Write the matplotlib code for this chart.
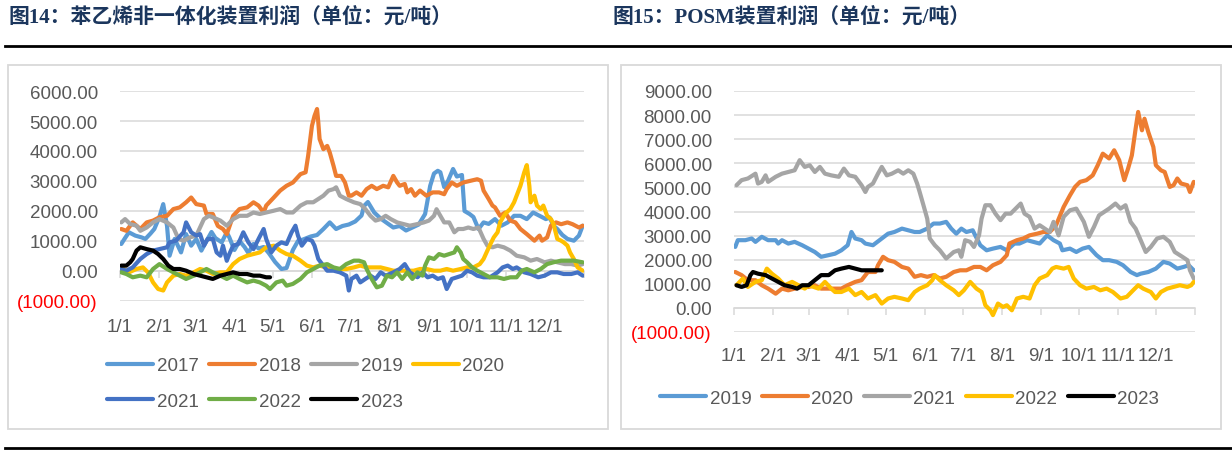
import matplotlib
matplotlib.use('Agg')
import matplotlib.pyplot as plt
import matplotlib.transforms as mtransforms
from matplotlib.patches import Rectangle
from matplotlib.lines import Line2D

# ---------------- data ----------------
month_days = [0, 31, 59, 90, 120, 151, 181, 212, 243, 273, 304, 334]
month_labels = ['1/1', '2/1', '3/1', '4/1', '5/1', '6/1', '7/1', '8/1', '9/1', '10/1', '11/1', '12/1']

left_title = '图14：苯乙烯非一体化装置利润（单位：元/吨）'
right_title = '图15：POSM装置利润（单位：元/吨）'

left_yticks = [-1000, 0, 1000, 2000, 3000, 4000, 5000, 6000]
right_yticks = [-1000, 0, 1000, 2000, 3000, 4000, 5000, 6000, 7000, 8000, 9000]

# left chart: styrene non-integrated plant profit
sm2017_days = [1,4,7,12,17,20,24,27,31,34,37,39,43,46,48,52,56,60,64,68,72,75,80,84,86,90,94,98,101,105,109,113,117,122,127,131,136,140,144,150,155,160,165,170,175,180,185,190,192,195,200,205,210,215,220,225,230,235,240,244,247,250,252,255,258,262,265,269,271,275,278,282,286,290,295,300,305,310,315,320,325,330,335,338,341,344,348,352,357,361,364]
sm2017_vals = [900,1100,1290,1180,1120,1070,1250,1400,1800,2230,1500,510,1070,800,620,1230,845,1070,680,1000,1300,1100,955,1290,1120,700,1000,800,600,900,750,800,600,300,67,100,700,1000,1050,1150,1200,1400,1620,1400,1500,1550,1650,1850,2170,2300,1950,1750,1600,1450,1500,1350,1450,1550,1900,2840,3250,3340,3290,2800,3000,3400,3150,3200,2000,1900,1800,1400,1620,1570,1730,1510,1620,1840,1840,1730,1950,1840,1730,1780,1510,1400,1200,1070,1010,1180,1510]

sm2018_days = [1,5,10,16,21,26,31,37,42,47,52,56,60,66,68,73,77,81,84,89,94,100,105,109,113,115,121,126,131,136,142,146,148,151,153,155,156,157,160,163,165,168,170,174,177,180,182,186,190,194,198,202,207,211,215,218,220,224,226,229,232,236,241,246,251,255,257,261,265,270,276,281,284,286,290,293,295,299,303,307,311,315,320,326,330,332,336,339,343,347,352,356,361,364]
sm2018_vals = [1400,1340,1620,1400,1620,1680,1790,1840,2065,2120,2290,2450,2230,2180,1900,1900,1500,1400,1230,1840,2065,2120,2290,2180,1950,2180,2450,2680,2840,2950,3230,3290,3840,4840,5170,5400,4950,4400,4060,4170,3950,3500,3170,3170,2950,2510,2510,2620,2510,2730,2840,2730,2840,2790,3170,2950,2840,2900,2620,2730,2510,2680,2510,2620,2620,2560,2730,2950,2840,2950,3010,3060,3010,2680,2400,2180,2120,1840,1950,1680,1620,1400,1230,1010,1180,1010,1120,1510,1620,1560,1620,1560,1450,1510]

sm2019_days = [1,4,8,13,16,21,26,31,37,42,46,50,55,60,66,70,73,79,84,89,94,100,105,110,115,121,126,131,136,142,147,152,156,160,164,168,170,173,178,184,189,193,197,201,205,209,213,218,223,228,234,239,243,247,249,252,255,259,263,266,270,274,278,282,286,289,293,297,302,307,312,318,323,328,334,339,344,350,355,360,364]
sm2019_vals = [1620,1730,1565,1510,1340,1450,1620,1730,1620,1450,1070,1010,1120,1180,1730,1840,1790,1680,1510,1730,1840,1840,1950,1900,1950,2010,2065,1950,1950,2180,2290,2290,2400,2510,2680,2730,2790,2510,2400,2290,2230,2065,1840,1680,1730,1840,1730,1620,1565,1510,1565,1620,1680,1840,2060,1840,1620,1620,1290,1400,1400,1450,1400,1450,1070,845,790,845,790,680,510,455,345,400,290,345,290,230,230,180,230]

sm2020_days = [1,7,13,18,22,26,30,34,37,42,47,52,58,63,68,73,79,84,89,94,100,105,110,115,121,126,131,136,142,147,152,157,162,168,173,178,184,189,194,199,205,210,215,220,226,231,236,241,247,252,257,262,268,273,278,283,286,289,292,294,297,299,302,304,307,310,312,315,318,320,322,323,326,328,331,333,336,339,341,344,347,349,352,354,357,360,364]
sm2020_vals = [120,-45,67,120,-45,-380,-600,-650,-380,-155,-100,-155,-45,67,10,-100,-45,-45,230,400,510,565,620,790,845,680,565,510,345,180,120,180,120,67,67,67,120,180,120,120,120,67,10,10,10,10,67,67,10,10,67,10,67,120,120,230,400,680,950,1120,1290,1620,1840,1950,2065,2290,2510,2840,3290,3530,2840,2290,2510,2180,2065,2180,1840,1730,1570,1070,1010,955,845,620,400,120,10]

sm2021_days = [1,5,10,16,21,26,31,37,39,44,50,52,56,60,63,66,69,73,76,79,81,84,86,89,93,97,101,105,109,113,115,119,123,127,131,135,138,140,143,147,151,153,156,159,163,168,173,178,180,182,186,189,193,197,201,205,209,215,220,224,228,234,238,242,246,250,254,257,261,265,269,273,277,281,286,291,297,301,305,309,312,318,323,329,334,339,344,349,355,360,364]
sm2021_vals = [67,10,120,400,565,680,730,790,955,1010,1290,1620,1290,1180,1230,845,1070,1070,620,510,845,340,565,845,900,1290,955,730,1070,1400,1070,620,845,955,900,1290,1510,1180,845,1070,1010,845,400,230,10,10,-45,-155,-650,-265,-155,-380,-265,-155,-265,-45,-155,-45,67,230,-45,-210,-45,-210,-155,-265,-210,-600,-265,-210,-155,10,-45,-155,-210,-210,-45,120,180,67,120,-45,-100,-210,-155,-45,-45,-100,-100,-45,-155]

sm2022_days = [1,5,10,16,21,26,31,37,42,47,52,58,63,68,73,79,84,89,94,100,105,110,115,118,123,128,131,136,142,147,152,157,163,168,173,178,184,188,192,194,198,202,206,210,214,218,222,226,230,234,238,240,243,247,251,255,259,263,265,268,270,273,277,281,286,291,297,302,307,312,316,320,326,331,336,341,347,352,357,364]
sm2022_vals = [-45,-100,-210,-155,-210,67,230,67,-45,-155,-265,-155,-45,67,-45,-155,-265,-155,-265,-380,-320,-380,-490,-600,-380,-320,-490,-430,-265,-45,67,180,230,120,67,230,345,345,290,67,-265,-545,-490,-155,-210,-45,-265,-45,-265,-45,-155,180,455,400,565,510,565,620,790,620,400,290,120,10,-100,-210,-210,-265,-210,-210,10,67,-45,67,230,290,345,345,345,290]

sm2023_days = [1,5,8,10,13,16,21,26,30,34,38,42,47,52,58,63,68,73,79,84,89,94,100,105,110,115,118]
sm2023_vals = [180,180,290,400,680,790,730,680,565,400,180,67,67,10,-100,-155,-210,-265,-155,-100,-45,-100,-100,-155,-155,-210,-210]

# right chart: POSM plant profit
po2019_days = [1,3,9,14,17,22,27,33,35,38,43,48,54,59,64,69,75,80,85,90,93,96,101,104,110,117,122,127,133,138,143,147,153,158,163,168,172,176,180,184,189,191,195,200,205,211,216,222,226,232,237,242,248,253,258,260,266,271,276,281,287,292,297,303,308,314,319,322,328,334,340,345,351,356,360,364]
po2019_vals = [2530,2810,2810,2880,2740,2950,2810,2810,2670,2810,2670,2740,2600,2460,2320,2120,2190,2250,2390,2600,3150,2880,2810,2670,2600,2880,3080,3150,3290,3220,3150,3150,3290,3500,3500,3570,3290,3080,3290,3150,3220,3010,2600,2390,2460,2530,2390,2670,2670,2810,2740,2670,3010,2810,2670,2390,2460,2320,2460,2530,2190,1980,1980,1910,1770,1490,1360,1420,1490,1630,1910,1840,1630,1700,1770,1560]

po2020_days = [1,6,11,17,22,27,33,38,43,48,54,59,64,69,75,80,85,90,96,101,106,112,114,118,122,127,133,138,143,148,153,158,163,168,174,179,184,190,195,200,205,211,216,218,224,229,234,240,245,250,255,261,266,270,274,279,284,288,292,297,301,305,309,312,315,318,320,323,325,328,332,334,338,341,345,348,351,354,359,361,364]
po2020_vals = [1490,1360,1150,1150,940,800,590,800,730,800,870,870,940,800,800,800,800,940,1080,1150,1490,1490,1770,2120,1980,1910,1700,1630,1290,1360,1290,1360,1220,1290,1490,1560,1560,1700,1700,1560,1770,1910,2190,2670,2810,2880,3010,3080,3150,3150,3430,4190,4670,5020,5230,5300,5500,5920,6400,6200,6540,6130,5300,5780,6330,7440,8130,7370,7850,7300,6680,5920,5710,5640,5020,5090,5370,5160,5090,4810,5230]

po2021_days = [2,6,11,17,19,22,25,27,33,38,43,48,52,56,60,64,68,72,77,83,87,91,96,101,104,106,110,114,117,121,125,130,134,138,142,145,147,150,153,155,159,163,168,174,178,180,183,187,190,194,196,199,203,207,211,215,219,223,227,230,234,238,242,246,250,253,257,261,266,271,277,281,285,289,293,297,302,306,310,314,318,322,326,330,335,340,345,349,355,359,361,364]
po2021_vals = [5090,5300,5370,5570,5160,5230,5500,5230,5440,5570,5640,5710,6130,5850,5920,5640,5850,5570,5500,5440,5780,5500,5440,5090,4810,5020,5160,5570,5850,5500,5570,5710,5570,5710,5570,5160,4810,4260,3700,2880,2600,2390,2050,2320,2390,2120,2810,2740,2530,3010,3700,4260,4260,3910,3640,3910,3910,4120,4330,3910,3780,3290,3430,3290,3150,3570,3010,3780,4050,4120,3570,2950,3360,3840,3980,4120,4330,4120,4260,3570,3290,2810,2320,2530,2880,2950,2740,2320,2120,1980,1560,1220]

po2022_days = [2,7,11,17,22,26,30,35,40,46,51,56,59,67,72,77,80,85,91,96,101,106,112,117,122,127,133,138,143,147,153,157,159,163,168,174,178,182,187,192,196,199,203,205,209,213,216,220,224,229,234,238,242,248,252,255,261,265,269,274,279,285,290,295,300,306,311,316,320,324,330,334,338,343,348,353,359,362,364]
po2022_vals = [940,1220,870,1080,1150,1630,1420,1220,940,1080,940,800,940,800,1080,800,660,660,800,530,660,390,530,180,390,460,390,320,660,800,940,1150,1360,1150,940,730,530,730,1080,800,660,110,-100,-300,180,40,110,-100,390,460,390,940,1220,1360,1630,1700,1630,1700,1220,940,800,870,730,800,660,390,460,730,940,800,660,390,660,800,870,940,870,940,1080]

po2023_days = [2,6,10,13,15,19,25,30,35,40,46,50,54,59,64,69,75,80,85,91,96,101,106,112,117]
po2023_vals = [940,870,940,1360,1490,1420,1360,1220,1080,940,870,800,940,940,1150,1360,1360,1560,1630,1700,1630,1560,1560,1560,1560]

left_series = [
    ('2017', sm2017_days, sm2017_vals, '#5B9BD5'),
    ('2018', sm2018_days, sm2018_vals, '#ED7D31'),
    ('2019', sm2019_days, sm2019_vals, '#A5A5A5'),
    ('2020', sm2020_days, sm2020_vals, '#FFC000'),
    ('2021', sm2021_days, sm2021_vals, '#4472C4'),
    ('2022', sm2022_days, sm2022_vals, '#70AD47'),
    ('2023', sm2023_days, sm2023_vals, '#000000'),
]
right_series = [
    ('2019', po2019_days, po2019_vals, '#5B9BD5'),
    ('2020', po2020_days, po2020_vals, '#ED7D31'),
    ('2021', po2021_days, po2021_vals, '#A5A5A5'),
    ('2022', po2022_days, po2022_vals, '#FFC000'),
    ('2023', po2023_days, po2023_vals, '#000000'),
]

# ---------------- figure ----------------
W, H = 1232, 452
fig = plt.figure(figsize=(W / 100, H / 100), dpi=100)
TXT = '#595959'
GRID = '#D9D9D9'
FS = 13.5
LW = 3.0


def fx(px):
    return px / W


def fy(py):
    return 1 - py / H


def fmt(v):
    return f'({abs(v):.2f})' if v < 0 else f'{v:.2f}'


def make_axes(rect, yticks, series, label_off):
    ax = fig.add_axes(rect)
    for name, d, v, c in series:
        ax.plot(d, v, color=c, lw=LW, label=name, solid_joinstyle='round', solid_capstyle='round')
    ax.set_xlim(0, 365)
    ax.set_ylim(yticks[0], yticks[-1])
    ax.set_yticks(yticks)
    ax.set_yticklabels([fmt(t) for t in yticks])
    for t, lab in zip(yticks, ax.get_yticklabels()):
        lab.set_color('#FF0000' if t < 0 else TXT)
        lab.set_fontfamily('Liberation Sans')
        lab.set_fontsize(FS)
    ax.tick_params(axis='y', length=0, pad=16)
    ax.yaxis.grid(True, color=GRID, lw=1.1)
    ax.set_axisbelow(True)
    for s in ['top', 'left', 'right']:
        ax.spines[s].set_visible(False)
    ax.spines['bottom'].set_position(('data', 0))
    ax.spines['bottom'].set_color(GRID)
    ax.spines['bottom'].set_linewidth(1.1)
    ax.spines['bottom'].set_zorder(0.5)
    ax.set_xticks(month_days + [365])
    ax.tick_params(axis='x', direction='out', length=5, color=GRID, width=1.1, labelbottom=False)
    trans = mtransforms.blended_transform_factory(ax.transData, ax.transAxes)
    for d, lab in zip(month_days, month_labels):
        ax.text(d, label_off, lab, transform=trans, ha='center', va='center',
                fontsize=FS, color=TXT, family='Liberation Sans')
    ax.set_facecolor('none')
    return ax


# left axes: plot area x 120-584 px, y 92-302 px
axL = make_axes([fx(120), fy(302), (584 - 120) / W, (302 - 92) / H], left_yticks, left_series, -26 / 210)
# right axes: plot area x 734-1195 px, y 92-333 px
axR = make_axes([fx(734), fy(333), (1195 - 734) / W, (333 - 92) / H], right_yticks, right_series, -24 / 241)

# boxes
for x0, x1 in [(8, 608), (621, 1221)]:
    fig.patches.append(Rectangle((fx(x0), fy(430)), (x1 - x0) / W, (430 - 66) / H,
                                 transform=fig.transFigure, fill=False, edgecolor=GRID, lw=1.3))

# rules
fig.add_artist(Line2D([fx(5), 1.0], [fy(47), fy(47)], color='black', lw=2.0, transform=fig.transFigure))
fig.add_artist(Line2D([fx(5), 1.0], [fy(449), fy(449)], color='black', lw=2.0, transform=fig.transFigure))

# titles
title_kw = dict(fontsize=15, fontweight='bold', color='#1B365D', va='center', ha='left',
                family=['Liberation Serif', 'Noto Sans CJK SC'])
fig.text(fx(8), fy(18), left_title, **title_kw)
fig.text(fx(613), fy(18), right_title, **title_kw)

# legends
leg_kw = dict(frameon=False, handlelength=2.45, handletextpad=0.2,
              columnspacing=0.55, borderpad=0, borderaxespad=0, labelcolor=TXT,
              prop={'family': 'Liberation Sans', 'size': FS})
hL, lL = axL.get_legend_handles_labels()
order = [0, 4, 1, 5, 2, 6, 3]
legL = fig.legend([hL[i] for i in order], [lL[i] for i in order], ncol=4, loc='center left',
                  bbox_to_anchor=(fx(107), fy(384.5)), labelspacing=0.98, **leg_kw)
hR, lR = axR.get_legend_handles_labels()
legR = fig.legend(hR, lR, ncol=5, loc='center left', bbox_to_anchor=(fx(660), fy(399)), **leg_kw)
for leg in (legL, legR):
    for ln in leg.get_lines():
        ln.set_linewidth(LW)
        ln.set_solid_capstyle('round')

fig.savefig('out.png', dpi=100)
